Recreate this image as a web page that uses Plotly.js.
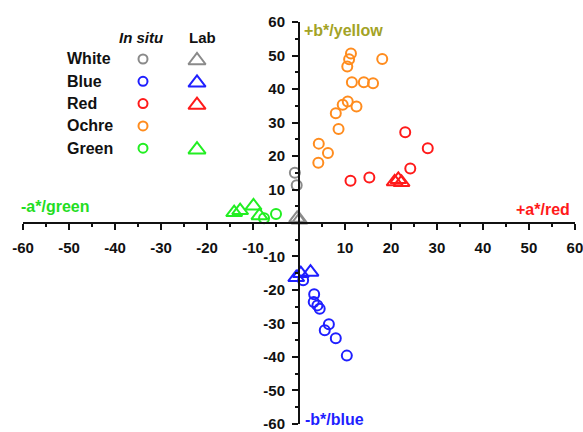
<!DOCTYPE html>
<html>
<head>
<meta charset="utf-8">
<script src="https://cdn.plot.ly/plotly-3.0.1.min.js"></script>
<style>html,body{margin:0;padding:0;background:#fff;}#chart{width:583px;height:432px;}</style>
</head>
<body>
<div id="chart"></div>
<script>
// ---- Data (CIELAB a*, b*) ----
const whiteInSituA = [-0.9, -0.5];
const whiteInSituB = [15.0, 11.3];
const whiteLabA = [-0.4, 0.1];
const whiteLabB = [1.4, 0.9];

const blueInSituA = [0.9, 3.3, 3.2, 4.0, 4.5, 6.5, 5.6, 8.0, 10.4];
const blueInSituB = [-17.1, -21.3, -23.6, -24.6, -25.6, -30.2, -32.0, -34.4, -39.6];
const blueLabA = [-0.6, 0.4, 2.5];
const blueLabB = [-16.3, -15.1, -14.7];

const redInSituA = [23.1, 28.0, 24.2, 15.3, 11.2];
const redInSituB = [27.1, 22.3, 16.3, 13.6, 12.6];
const redLabA = [20.8, 21.6, 22.3];
const redLabB = [12.3, 13.0, 12.1];

const ochreInSituA = [11.3, 10.9, 10.5, 18.1, 11.5, 14.1, 16.1, 10.6, 9.5, 12.5, 8.0, 8.6, 4.3, 6.3, 4.2];
const ochreInSituB = [50.6, 48.9, 46.7, 49.0, 42.0, 42.0, 41.7, 36.3, 35.3, 34.8, 32.8, 28.1, 23.7, 20.9, 18.0];

const greenInSituA = [-7.6, -5.0];
const greenInSituB = [1.4, 2.7];
const greenLabA = [-14.1, -12.8, -9.9, -8.6];
const greenLabB = [3.1, 3.7, 5.1, 2.2];

const groupNames = ["White", "Blue", "Red", "Ochre", "Green"];
const groupColors = ["#8a8a8a", "#1f1fff", "#ff1a1a", "#ff8c1e", "#22ee22"];
const groupHasLab = [true, true, true, false, true];

const xTickVals = [-60, -50, -40, -30, -20, -10, 10, 20, 30, 40, 50, 60];
const yTickVals = [-60, -50, -40, -30, -20, -10, 10, 20, 30, 40, 50, 60];

// ---- Styling ----
const FONT = "Liberation Sans, Arial, sans-serif";
const circleSize = 10, triSize = 14, mlw = 2;
// plot area in figure pixels
const L = 23, R = 575, T = 22, B = 424;
const px2paperX = (px) => (px - L) / (R - L);
const py2paperY = (py) => 1 - (py - T) / (B - T);

function circ(a, b, color) {
  return {x: a, y: b, type: "scatter", mode: "markers", showlegend: false, hoverinfo: "skip",
    marker: {symbol: "circle-open", size: circleSize, color: color, line: {width: mlw, color: color}}};
}
function tri(a, b, color) {
  return {x: a, y: b, type: "scatter", mode: "markers", showlegend: false, hoverinfo: "skip",
    marker: {symbol: "triangle-up-open", size: triSize, color: color, line: {width: mlw, color: color}}};
}

const traces = [
  circ(whiteInSituA, whiteInSituB, groupColors[0]),
  tri(whiteLabA, whiteLabB, groupColors[0]),
  circ(ochreInSituA, ochreInSituB, groupColors[3]),
  circ(redInSituA, redInSituB, groupColors[2]),
  tri(redLabA, redLabB, groupColors[2]),
  circ(blueInSituA, blueInSituB, groupColors[1]),
  tri(blueLabA, blueLabB, groupColors[1]),
  circ(greenInSituA, greenInSituB, groupColors[4]),
  tri(greenLabA, greenLabB, groupColors[4])
];

// Legend keys on an overlay axis measured in figure pixels
const legCircleX = 143, legTriX = 197, legRow0 = 59, legRowStep = 22.3, legNameX = 65, legHeadY = 37;
const annotations = [];
groupNames.forEach((name, i) => {
  const y = legRow0 + i * legRowStep;
  const c = circ([legCircleX], [y], groupColors[i]);
  c.xaxis = "x2"; c.yaxis = "y2"; c.marker.size = 9;
  traces.push(c);
  if (groupHasLab[i]) {
    const t = tri([legTriX], [y + 1.5], groupColors[i]);
    t.xaxis = "x2"; t.yaxis = "y2"; t.marker.size = 15;
    traces.push(t);
  }
  annotations.push({xref: "paper", yref: "paper", x: px2paperX(legNameX), y: py2paperY(y), text: "<b>" + name + "</b>", showarrow: false,
    xanchor: "left", yanchor: "middle", font: {family: FONT, size: 16, color: "#111"}});
});
annotations.push({xref: "paper", yref: "paper", x: px2paperX(141), y: py2paperY(legHeadY), text: "<b><i>In situ</i></b>", showarrow: false,
  xanchor: "center", yanchor: "middle", font: {family: FONT, size: 15, color: "#111"}});
annotations.push({xref: "paper", yref: "paper", x: px2paperX(202), y: py2paperY(legHeadY), text: "<b>Lab</b>", showarrow: false,
  xanchor: "center", yanchor: "middle", font: {family: FONT, size: 15, color: "#111"}});

annotations.push(
  {xref: "paper", yref: "paper", x: px2paperX(302), y: py2paperY(30), text: "<b>+b*/yellow</b>", showarrow: false, xanchor: "left", yanchor: "middle",
    font: {family: FONT, size: 16, color: "#a3a326"}},
  {xref: "paper", yref: "paper", x: px2paperX(19), y: py2paperY(207), text: "<b>-a*/green</b>", showarrow: false, xanchor: "left", yanchor: "middle",
    font: {family: FONT, size: 16, color: "#22dd22"}},
  {xref: "paper", yref: "paper", x: px2paperX(572), y: py2paperY(209), text: "<b>+a*/red</b>", showarrow: false, xanchor: "right", yanchor: "middle",
    font: {family: FONT, size: 16, color: "#ff1a1a"}},
  {xref: "paper", yref: "paper", x: px2paperX(303), y: py2paperY(419), text: "<b>-b*/blue</b>", showarrow: false, xanchor: "left", yanchor: "middle",
    font: {family: FONT, size: 16, color: "#1f1fff"}}
);

const EPS = 0.02;
const layout = {
  width: 583, height: 432,
  margin: {l: L, r: 583 - R, t: T, b: 432 - B, pad: 0},
  paper_bgcolor: "#fff", plot_bgcolor: "rgba(0,0,0,0)",
  showlegend: false,
  font: {family: FONT, size: 14, color: "#111"},
  xaxis: {
    range: [-60 - EPS, 60 + EPS], anchor: "free", position: 0.5,
    showgrid: false, zeroline: false, showline: true, linecolor: "#111", linewidth: 2,
    tickmode: "array", tickvals: xTickVals, ticktext: xTickVals.map(String),
    ticks: "outside", ticklen: 6, tickwidth: 2, tickcolor: "#111",
    ticklabelstandoff: 5, ticklabeloverflow: "allow",
    tickfont: {family: FONT, size: 15, color: "#111", weight: "bold"},
    minor: {tickmode: "linear", tick0: 0, dtick: 5, ticks: "outside", ticklen: 3, tickwidth: 2, tickcolor: "#111"}
  },
  yaxis: {
    range: [-60 - EPS, 60 + EPS], anchor: "free", position: 0.5,
    showgrid: false, zeroline: false, showline: true, linecolor: "#111", linewidth: 2,
    tickmode: "array", tickvals: yTickVals, ticktext: yTickVals.map(String),
    ticks: "outside", ticklen: 6, tickwidth: 2, tickcolor: "#111",
    ticklabelstandoff: 4, ticklabeloverflow: "allow",
    tickfont: {family: FONT, size: 15, color: "#111", weight: "bold"},
    minor: {tickmode: "linear", tick0: 0, dtick: 5, ticks: "outside", ticklen: 3, tickwidth: 2, tickcolor: "#111"}
  },
  xaxis2: {overlaying: "x", range: [L, R], visible: false, fixedrange: true},
  yaxis2: {overlaying: "y", range: [B, T], visible: false, fixedrange: true},
  annotations: annotations
};

Plotly.newPlot("chart", traces, layout, {displayModeBar: false, staticPlot: true});
</script>
</body>
</html>
